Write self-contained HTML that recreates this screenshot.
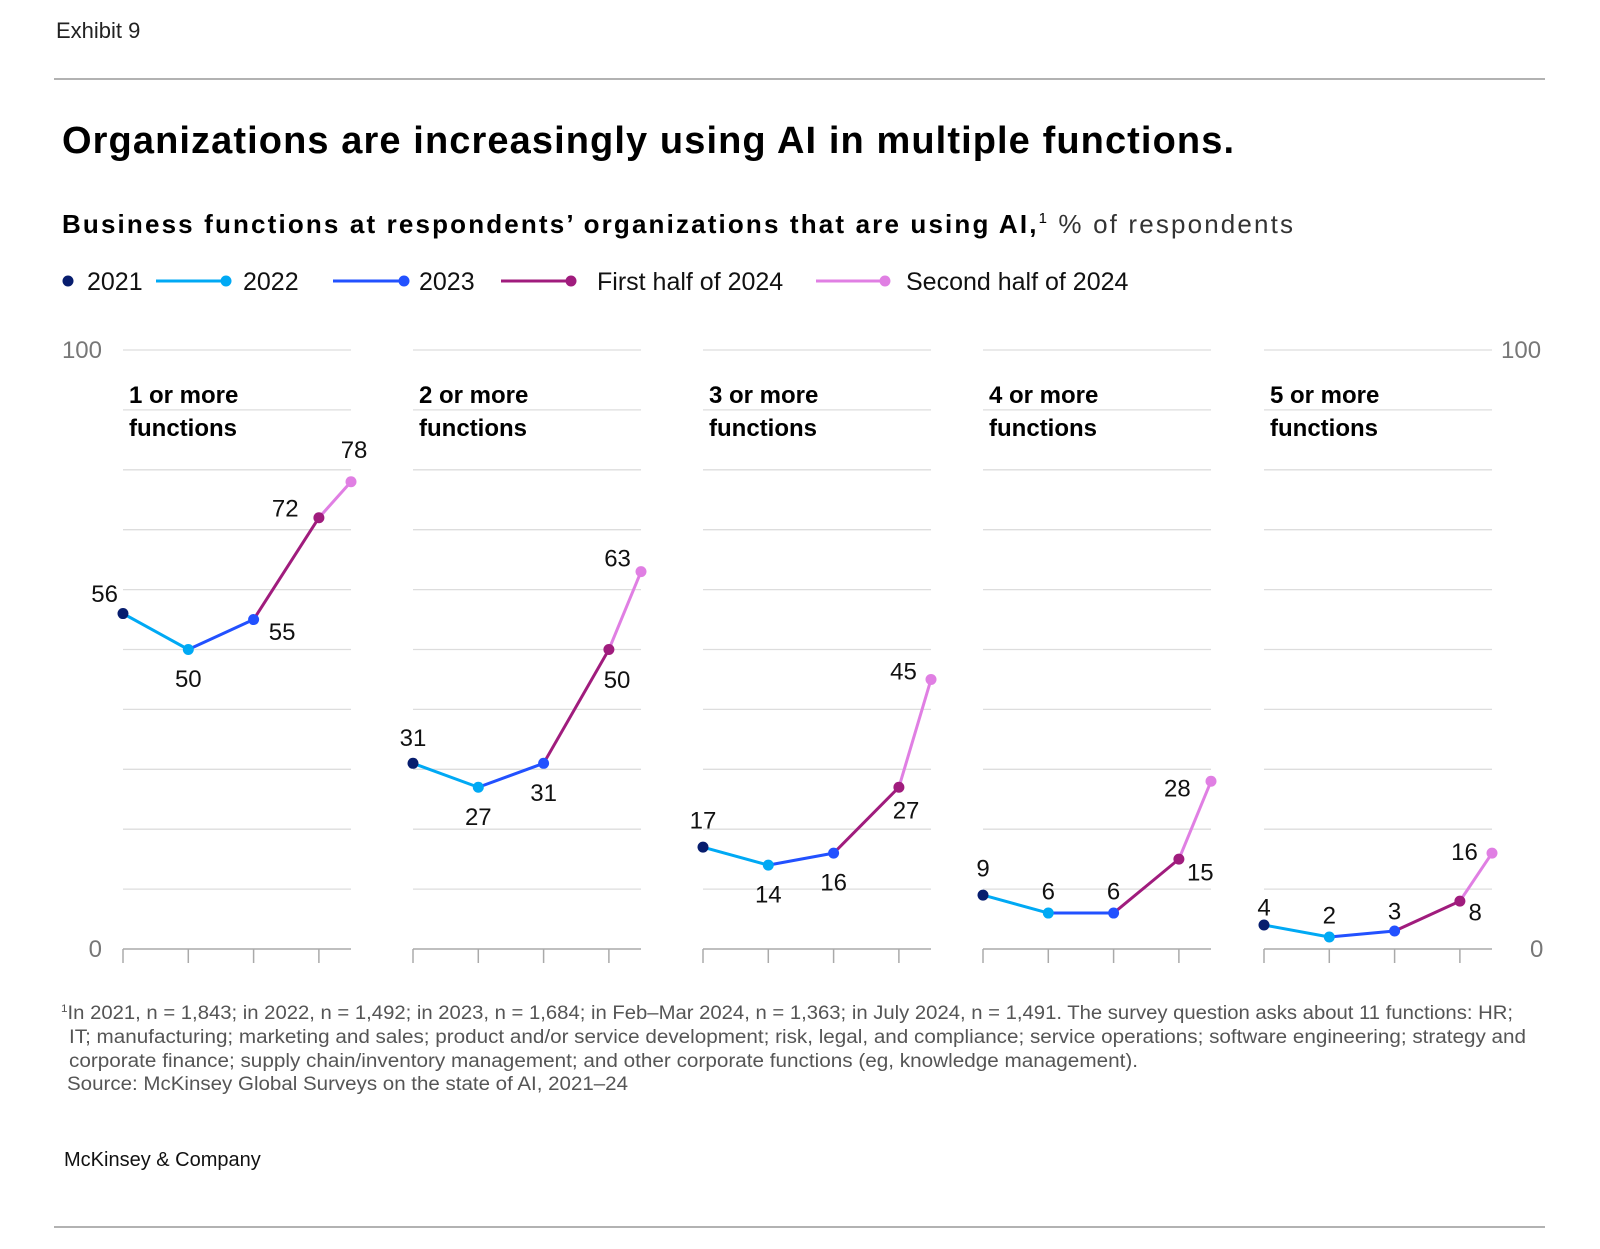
<!DOCTYPE html>
<html><head><meta charset="utf-8">
<style>
html,body{margin:0;padding:0;background:#fff;}
svg{display:block;font-family:"Liberation Sans",sans-serif;}
</style></head>
<body>
<svg id="chart" width="1600" height="1249" viewBox="0 0 1600 1249">
<text x="56" y="38" font-size="22" fill="#222">Exhibit 9</text>
<line x1="54" y1="79" x2="1545" y2="79" stroke="#999" stroke-width="1.5"/>
<text x="62" y="153" font-size="38" font-weight="bold" fill="#000" textLength="1172">Organizations are increasingly using AI in multiple functions.</text>
<text x="62" y="233" font-size="26" fill="#000" textLength="1231" lengthAdjust="spacing"><tspan font-weight="bold">Business functions at respondents’ organizations that are using AI,</tspan><tspan font-size="15" dy="-10">1</tspan><tspan dy="10" fill="#333"> % of respondents</tspan></text>
<g id="legend"></g>
<g id="plots"></g>
<g font-size="19" fill="#555">
<text x="61" y="1019" textLength="1452" lengthAdjust="spacingAndGlyphs"><tspan font-size="11" dy="-7">1</tspan><tspan dy="7">In 2021, n = 1,843; in 2022, n = 1,492; in 2023, n = 1,684; in Feb–Mar 2024, n = 1,363; in July 2024, n = 1,491. The survey question asks about 11 functions: HR;</tspan></text>
<text x="69" y="1043" textLength="1457" lengthAdjust="spacingAndGlyphs">IT; manufacturing; marketing and sales; product and/or service development; risk, legal, and compliance; service operations; software engineering; strategy and</text>
<text x="69" y="1067" textLength="1069" lengthAdjust="spacingAndGlyphs">corporate finance; supply chain/inventory management; and other corporate functions (eg, knowledge management).</text>
<text x="67" y="1090" textLength="561" lengthAdjust="spacingAndGlyphs">Source: McKinsey Global Surveys on the state of AI, 2021–24</text>
</g>
<text x="64" y="1166" font-size="20" fill="#111">McKinsey &amp; Company</text>
<line x1="54" y1="1227" x2="1545" y2="1227" stroke="#999" stroke-width="1.5"/>
</svg>
<script>
const series = ["2021","2022","2023","First half of 2024","Second half of 2024"];
const panels = ["1 or more","2 or more","3 or more","4 or more","5 or more"];
const values = [
  [56,50,55,72,78],
  [31,27,31,50,63],
  [17,14,16,27,45],
  [9,6,6,15,28],
  [4,2,3,8,16]
];
const colors = ["#071d6e","#00a9f4","#2251ff","#a01c7d","#e07fe3"];
// label offsets (styling, px)
const labelOff = [
  [[-18,-20],[0,28],[28,11],[-33,-10],[3,-32]],
  [[0,-26],[0,28],[0,28],[8,29],[-23,-14]],
  [[0,-27],[0,28],[0,28],[7,22],[-27,-9]],
  [[0,-27],[0,-22],[0,-22],[21,12],[-33,6]],
  [[0,-18],[0,-22],[0,-20],[15,10],[-27,-2]]
];
const NS="http://www.w3.org/2000/svg";
function mk(tag,attrs,parent){const e=document.createElementNS(NS,tag);for(const k in attrs)e.setAttribute(k,attrs[k]);parent.appendChild(e);return e;}
const panelX=[123,413,703,983,1264], panelW=228, step=65.3;
function yS(v){return 949-5.99*v;}
function xS(p,i){return i<4?panelX[p]+i*step:panelX[p]+panelW;}
const plots=document.getElementById('plots');
const yl=[[102,"100",350,"end"],[102,"0",949,"end"],[1501,"100",350,"start"],[1530,"0",949,"start"]];
yl.forEach(a=>{const t=mk('text',{x:a[0],y:a[2]+8,'font-size':24,fill:'#777','text-anchor':a[3]},plots);t.textContent=a[1];

});
panels.forEach((name,p)=>{
  const g=mk('g',{},plots);
  
  
  for(let v=10;v<=100;v+=10){const l=mk('line',{x1:panelX[p],x2:panelX[p]+panelW,y1:yS(v),y2:yS(v),stroke:'#ddd','stroke-width':1.3},g);
    
    }
  const ax=mk('line',{x1:panelX[p],x2:panelX[p]+panelW,y1:yS(0),y2:yS(0),stroke:'#aaa','stroke-width':1.5},g);
  
  
  for(let i=0;i<4;i++){const t=mk('line',{x1:xS(p,i),x2:xS(p,i),y1:yS(0),y2:yS(0)+14,stroke:'#aaa','stroke-width':1.5},g);
    
    }
  const tt=mk('text',{x:panelX[p]+6,y:403,'font-size':24,'font-weight':'bold',fill:'#000'},g);
  
  
  tt.textContent=name;
  const t2=mk('text',{x:panelX[p]+6,y:436,'font-size':24,'font-weight':'bold',fill:'#000'},g);
  
  
  t2.textContent='functions';
  const vals=values[p];
  for(let i=1;i<vals.length;i++){
    const s=mk('line',{x1:xS(p,i-1),y1:yS(vals[i-1]),x2:xS(p,i),y2:yS(vals[i]),stroke:colors[i],'stroke-width':3},g);
    
    
  }
  vals.forEach((v,i)=>{
    const c=mk('circle',{cx:xS(p,i),cy:yS(v),r:5.5,fill:colors[i]},g);
    
    
    const o=labelOff[p][i];
    const t=mk('text',{x:xS(p,i)+o[0]*1.02,y:yS(v)+o[1]*1.02+9,'font-size':24,fill:'#111','text-anchor':'middle'},g);
    
    
    t.textContent=v;
  });
});
const lg=document.getElementById('legend');
const legX=[[null,68,87],[156,226,243],[333,404,419],[501,571,597],[816,885,906]];
series.forEach((s,i)=>{
  const g=mk('g',{},lg);
  
  
  const L=legX[i];
  if(L[0]!==null){mk('line',{x1:L[0],x2:L[1],y1:281,y2:281,stroke:colors[i],'stroke-width':3},g);}
  mk('circle',{cx:L[1],cy:281,r:5.5,fill:colors[i]},g);
  const t=mk('text',{x:L[2],y:290,'font-size':25,fill:'#111'},g);
  t.textContent=s;
});
</script>
</body></html>
